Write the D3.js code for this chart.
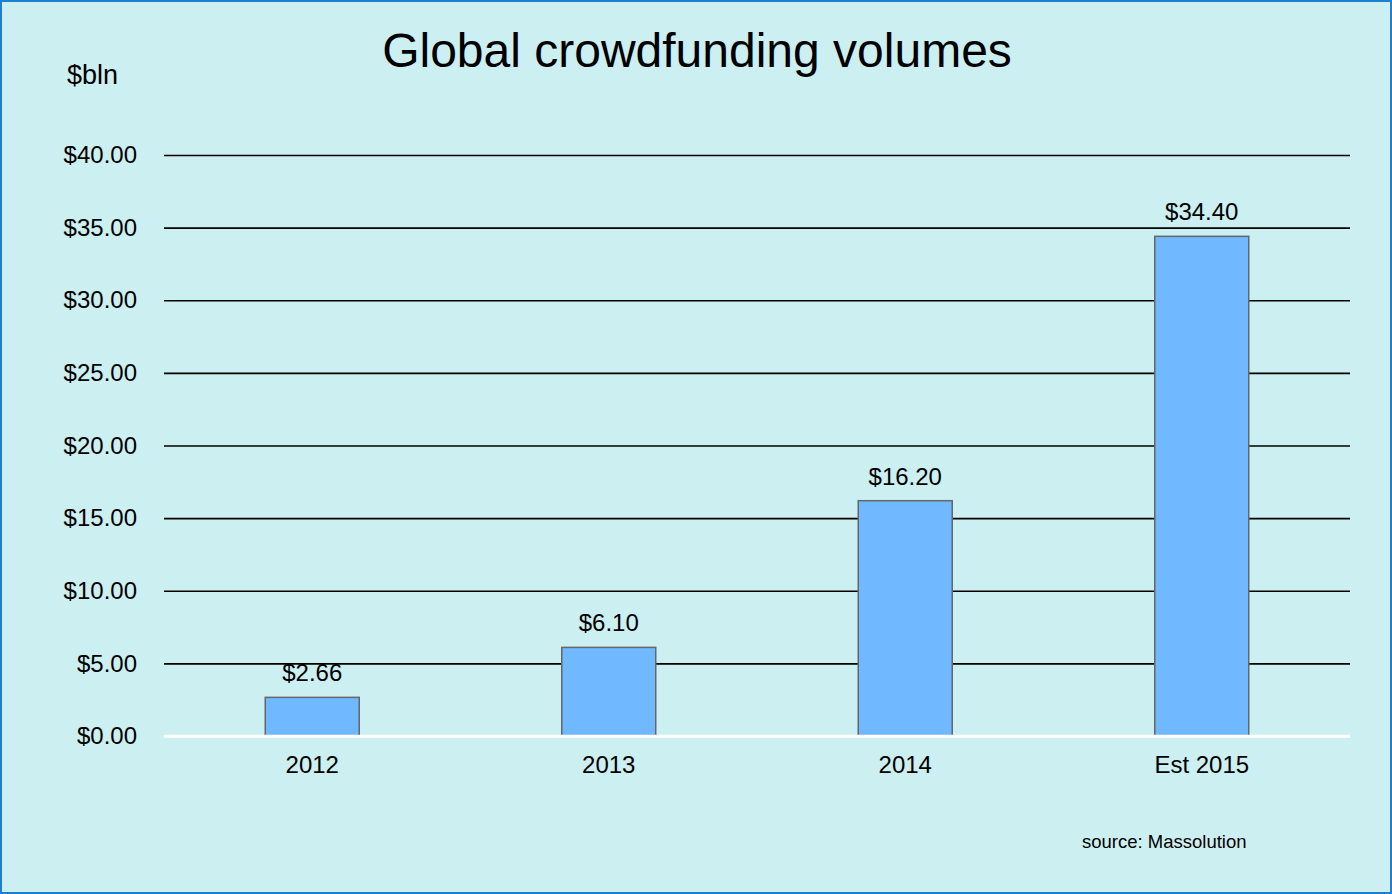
<!DOCTYPE html>
<html>
<head>
<meta charset="utf-8">
<script src="https://cdn.jsdelivr.net/npm/d3@7"></script>
<style>
  html, body { margin: 0; padding: 0; background: #fff; }
  svg { display: block; font-family: "Liberation Sans", Arial, sans-serif; }
</style>
</head>
<body>
<div id="chart"></div>
<script>
// data
var categories = ["2012", "2013", "2014", "Est 2015"];
var volumes = [2.66, 6.10, 16.20, 34.40];
var yTicks = [0, 5, 10, 15, 20, 25, 30, 35, 40];

var w = 1392, h = 894;
var margin = { top: 155, right: 42, bottom: 158, left: 164 },
    width = w - margin.left - margin.right,
    height = h - margin.top - margin.bottom;

var svg = d3.select("#chart")
    .append("svg")
    .attr("width", w)
    .attr("height", h);

// background + frame
svg.append("rect")
    .attr("x", 1).attr("y", 1)
    .attr("width", w - 2).attr("height", h - 2)
    .attr("fill", "#cceff1")
    .attr("stroke", "#1f7fcf")
    .attr("stroke-width", 2);

var g = svg.append("g")
    .attr("transform", "translate(" + margin.left + "," + margin.top + ")");

var x = d3.scaleBand()
    .domain(categories)
    .range([0, width])
    .paddingInner(0.683)
    .paddingOuter(0.3415);

var y = d3.scaleLinear()
    .domain([0, 40])
    .range([height, 0]);

var fmt = function (d) { return "$" + d3.format(".2f")(d); };

// gridlines and tick labels
var yAxis = d3.axisLeft(y)
    .tickValues(yTicks)
    .tickSize(-width)
    .tickPadding(27)
    .tickFormat(fmt);

var ya = g.append("g").call(yAxis);
ya.select(".domain").remove();
ya.selectAll(".tick line")
    .attr("stroke", "#000")
    .attr("stroke-width", 1.6)
    .filter(function (d) { return d === 0; })
    .attr("stroke", "#fff")
    .attr("stroke-width", 2.5);
ya.selectAll(".tick text")
    .attr("fill", "#000")
    .style("font-size", "24px");

// bars
g.append("g")
    .selectAll("rect")
    .data(volumes)
    .enter()
    .append("rect")
    .attr("x", function (d, i) { return x(categories[i]); })
    .attr("y", function (d) { return y(d); })
    .attr("width", x.bandwidth())
    .attr("height", function (d) { return height - y(d); })
    .attr("fill", "#70b8ff")
    .attr("stroke", "#666")
    .attr("stroke-width", 1.5);

// redraw baseline over bar bottoms
g.append("line")
    .attr("x1", 0).attr("x2", width)
    .attr("y1", y(0)).attr("y2", y(0))
    .attr("stroke", "#fff")
    .attr("stroke-width", 2.5);

// value labels
g.append("g")
    .selectAll("text")
    .data(volumes)
    .enter()
    .append("text")
    .attr("x", function (d, i) { return x(categories[i]) + x.bandwidth() / 2; })
    .attr("y", function (d) { return y(d) - 16; })
    .attr("text-anchor", "middle")
    .style("font-size", "24px")
    .text(fmt);

// category labels
g.append("g")
    .selectAll("text")
    .data(categories)
    .enter()
    .append("text")
    .attr("x", function (d) { return x(d) + x.bandwidth() / 2; })
    .attr("y", height + 37)
    .attr("text-anchor", "middle")
    .style("font-size", "24px")
    .text(function (d) { return d; });

// titles
svg.append("text")
    .attr("x", 697).attr("y", 67)
    .attr("text-anchor", "middle")
    .style("font-size", "48px")
    .text("Global crowdfunding volumes");

svg.append("text")
    .attr("x", 67).attr("y", 84)
    .style("font-size", "27px")
    .text("$bln");

svg.append("text")
    .attr("x", 1082).attr("y", 848)
    .style("font-size", "18.5px")
    .text("source: Massolution");
</script>
</body>
</html>
